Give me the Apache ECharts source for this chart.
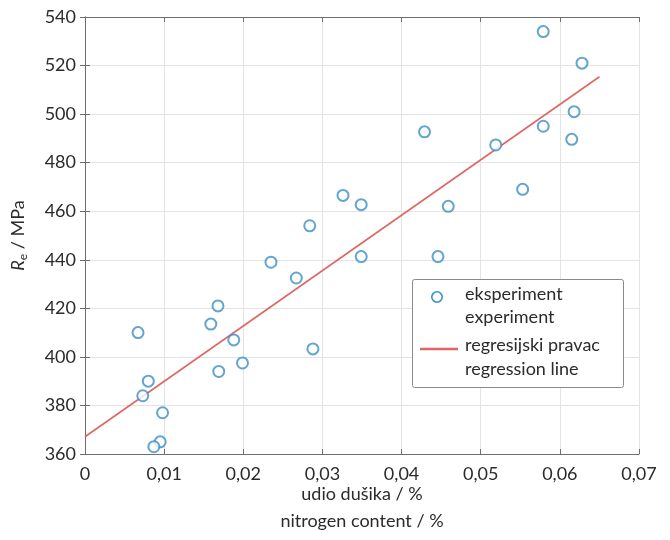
<!DOCTYPE html>
<html lang="hr">
  <head>
    <meta charset="utf-8" />
    <title>Re vs nitrogen content</title>
    <script src="https://cdn.jsdelivr.net/npm/echarts@6/dist/echarts.min.js"></script>
    <style>
      * {
        margin: 0;
        padding: 0;
      }
      html,
      body,
      #main {
        width: 100%;
        height: 100%;
        overflow: hidden;
        background: #fff;
      }
    </style>
  </head>
  <body>
    <div id="main"></div>
    <script>
      // nitrogen content (%) and yield strength Re (MPa)
      var nitrogen = [
        0.0067, 0.008, 0.0073, 0.0098, 0.0095, 0.0087, 0.0168, 0.0159, 0.0188,
        0.0199, 0.0169, 0.0235, 0.0267, 0.0326, 0.0349, 0.0284, 0.0459, 0.0349,
        0.0446, 0.0288, 0.0579, 0.0628, 0.0618, 0.0579, 0.0615, 0.0429, 0.0519,
        0.0553
      ];
      var re = [
        410, 390, 384, 377, 365, 363, 421, 413.5, 407, 397.5, 394, 439, 432.5,
        466.5, 462.7, 454, 462, 441.3, 441.3, 403.3, 534, 521, 501, 495, 489.6,
        492.7, 487.3, 469
      ];
      // regression line end points
      var regX = [0, 0.065];
      var regY = [367.1, 515.4];

      var legendNames = [
        ["eksperiment", "experiment"],
        ["regresijski pravac", "regression line"],
      ];

      var font = "Lato";
      var textColor = "#2b2b2b";
      var frameColor = "#6e6e6e";
      var blue = "#3d8fc4";
      var red = "#e06666";

      var points = nitrogen.map(function (x, i) {
        return [x, re[i]];
      });
      var line = regX.map(function (x, i) {
        return [x, regY[i]];
      });

      function fmtX(v) {
        if (v === 0) return "0";
        return v.toFixed(2).replace(".", ",");
      }

      var chart = echarts.init(document.getElementById("main"));

      var baseAxis = {
        axisLine: { show: true, lineStyle: { color: frameColor, width: 1 } },
        axisTick: { show: true, inside: true, length: 5, lineStyle: { color: frameColor } },
      };

      // legend drawn as a small graphic box (two-line entries, icon on first line)
      var legendText = function (str, y) {
        return {
          type: "text",
          left: 465,
          top: y - 12,
          style: { text: str, font: "18px " + font, fill: textColor },
        };
      };
      var legendBox = [
        {
          type: "rect",
          left: 412,
          top: 279,
          shape: { width: 211, height: 108, r: 2 },
          style: { fill: "#fff", stroke: "#8a8a8a", lineWidth: 1 },
          z: 10,
        },
        {
          type: "circle",
          shape: { cx: 437, cy: 297, r: 5.2 },
          style: { fill: "none", stroke: blue, lineWidth: 1.6 },
        },
        {
          type: "line",
          shape: { x1: 420, y1: 349, x2: 458, y2: 349 },
          style: { stroke: red, lineWidth: 2.5 },
        },
        legendText(legendNames[0][0], 297),
        legendText(legendNames[0][1], 320),
        legendText(legendNames[1][0], 348),
        legendText(legendNames[1][1], 372),
      ].map(function (g) {
        g.z = g.z || 11;
        return g;
      });

      chart.setOption({
        animation: false,
        textStyle: { fontFamily: font },
        grid: { left: 85, right: 31, top: 17, bottom: 86, outerBoundsMode: "none" },
        graphic: legendBox,
        xAxis: [
          Object.assign({}, baseAxis, {
            type: "value",
            min: 0,
            max: 0.07,
            interval: 0.01,
            name: "udio dušika / %\nnitrogen content / %",
            nameLocation: "middle",
            nameGap: 27,
            nameMoveOverlap: false,
            nameTextStyle: { fontSize: 18, color: textColor, lineHeight: 27, verticalAlign: "top" },
            axisLabel: {
              fontSize: 18,
              color: textColor,
              margin: 11,
              formatter: fmtX,
            },
            splitLine: { show: true, lineStyle: { color: "#e3e3e3" } },
          }),
          Object.assign({}, baseAxis, {
            type: "value",
            position: "top",
            min: 0,
            max: 0.07,
            interval: 0.01,
            axisLabel: { show: false },
            splitLine: { show: false },
          }),
        ],
        yAxis: [
          Object.assign({}, baseAxis, {
            type: "value",
            min: 360,
            max: 540,
            interval: 20,
            name: "{i|R}{s|e} / MPa",
            nameLocation: "middle",
            nameGap: 56,
            nameMoveOverlap: false,
            nameTextStyle: {
              fontSize: 18,
              color: textColor,
              rich: {
                i: { fontSize: 18, fontStyle: "italic", color: textColor, fontFamily: font },
                s: { fontSize: 12, color: textColor, fontFamily: font, padding: [10, 0, 0, 0] },
              },
            },
            axisLabel: { fontSize: 18, color: textColor, margin: 9 },
            splitLine: { show: true, lineStyle: { color: "#e3e3e3" } },
          }),
          Object.assign({}, baseAxis, {
            type: "value",
            position: "right",
            min: 360,
            max: 540,
            interval: 20,
            axisLabel: { show: false },
            splitLine: { show: false },
          }),
        ],
        series: [
          {
            name: legendNames[0].join(" "),
            type: "scatter",
            data: points,
            symbol: "emptyCircle",
            symbolSize: 11,
            itemStyle: { color: blue, borderColor: blue, borderWidth: 1.6 },
            z: 3,
          },
          {
            name: legendNames[1].join(" "),
            type: "line",
            data: line,
            symbol: "none",
            lineStyle: { color: red, width: 1.6 },
            z: 2,
          },
        ],
      });
    </script>
  </body>
</html>
